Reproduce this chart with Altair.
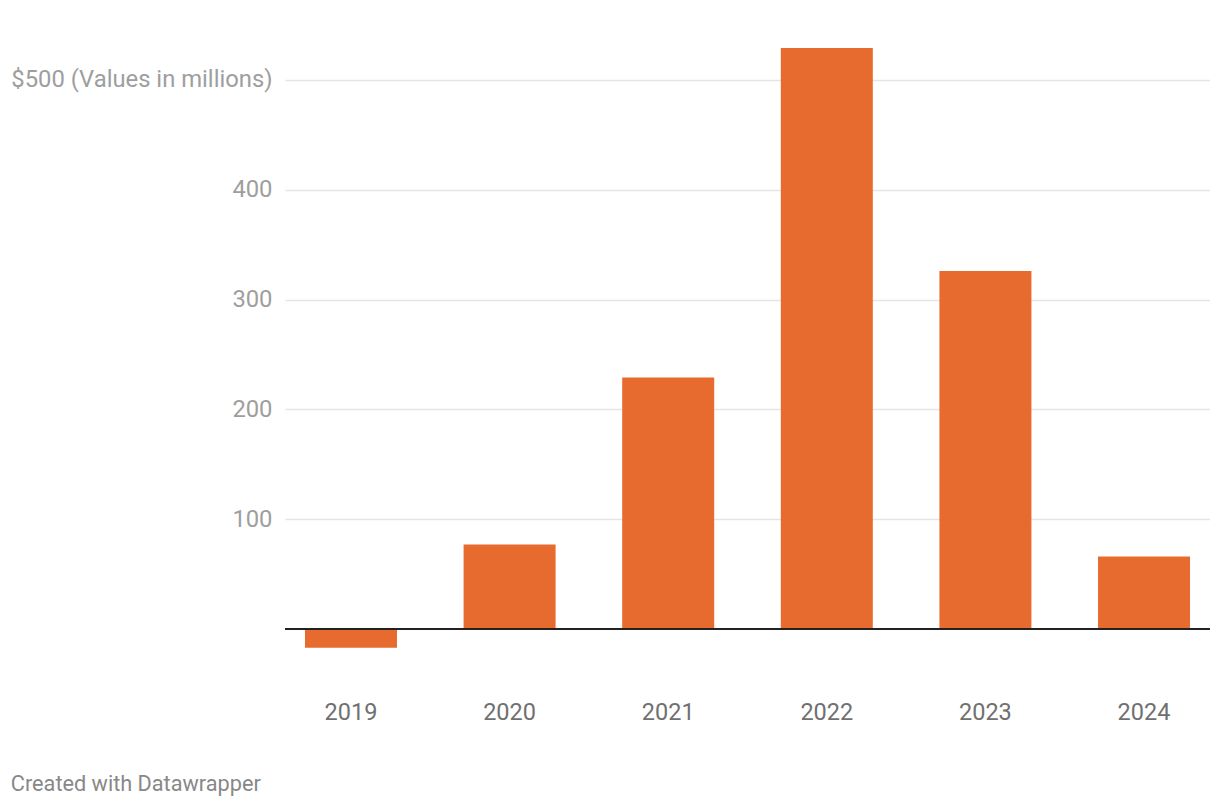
import altair as alt
import pandas as pd

years = ["2019", "2020", "2021", "2022", "2023", "2024"]
values = [-17, 77, 229, 529, 326, 66]
y_ticks = [100, 200, 300, 400, 500]
top_label = "$500 (Values in millions)"
caption = "Created with Datawrapper"

df = pd.DataFrame({"year": years, "value": values})
zero_df = pd.DataFrame({"value": [0]})

y_axis = alt.Axis(values=y_ticks, domain=False, ticks=False, grid=True,
                  gridColor="#e5e5e5", gridWidth=1.5,
                  labelExpr=f"datum.value == 500 ? '{top_label}' : datum.label",
                  labelFont="Roboto", labelFontSize=23.8, labelColor="#9e9e9e",
                  labelPadding=13, labelBaseline="middle", labelLimit=600)
y_scale = alt.Scale(domain=[-40, 540], nice=False)

bars = alt.Chart(df).mark_bar(color="#e76a2e").encode(
    x=alt.X(
        "year:N", sort=years, title=None,
        scale=alt.Scale(paddingInner=0.42, paddingOuter=0.126),
        axis=alt.Axis(labelAngle=0, domain=False, ticks=False, grid=False,
                      labelFont="Roboto", labelFontSize=23.5, labelColor="#707070",
                      labelPadding=39, labelBaseline="middle"),
    ),
    y=alt.Y("value:Q", title=None, scale=y_scale, axis=y_axis),
)

baseline = alt.Chart(zero_df).mark_rule(color="#222222", strokeWidth=2).encode(
    y=alt.Y("value:Q", title=None, scale=y_scale, axis=y_axis)
)

chart = alt.layer(bars, baseline).properties(
    width=925,
    height=637,
    title=alt.TitleParams(caption, orient="bottom", anchor="start", frame="bounds",
                          font="Roboto", fontSize=21.7, fontWeight="normal",
                          color="#888888", offset=50),
    autosize=alt.AutoSizeParams(type="none"),
    padding={"left": 277, "top": 28, "right": 0, "bottom": 125},
).configure_view(stroke=None)

chart.save("out.html", embed_options={"renderer": "svg", "actions": False})
